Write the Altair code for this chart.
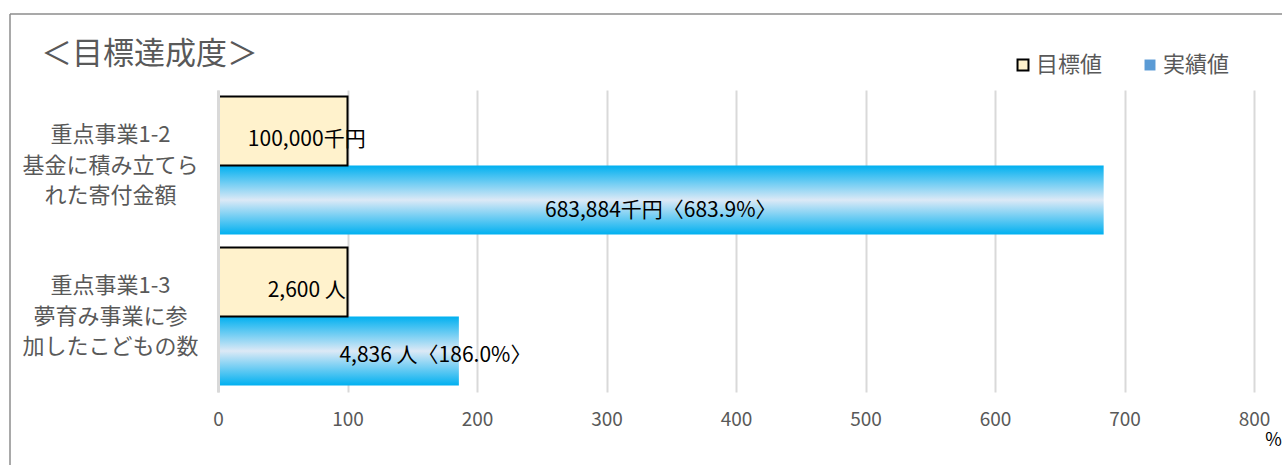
import altair as alt
import pandas as pd

FONT = "Noto Sans CJK JP"

# ---- data ----
categories = [
    ["重点事業1-2", "基金に積み立てら", "れた寄付金額"],
    ["重点事業1-3", "夢育み事業に参", "加したこどもの数"],
]
series = ["目標値", "実績値"]
target_amounts = [100000, 2600]
actual_amounts = [683884, 4836]
units = ["千円", " 人"]
target_pct = [100, 100]
actual_pct = [683.9, 186.0]
x_ticks = [0, 100, 200, 300, 400, 500, 600, 700, 800]
title_text = "＜目標達成度＞"

cat_labels = ["|".join(c) for c in categories]
rows = []
for i, cat in enumerate(cat_labels):
    rows.append({"cat": cat, "series": series[0], "pct": target_pct[i], "row": i,
                 "label": f"{target_amounts[i]:,}{units[i]}"})
    rows.append({"cat": cat, "series": series[1], "pct": actual_pct[i], "row": i,
                 "label": f"{actual_amounts[i]:,}{units[i]}〈{actual_pct[i]:.1f}%〉"})
df = pd.DataFrame(rows)

W, H = 1036, 302

x_axis = alt.Axis(values=x_ticks, title="%", titleX=1055, titleY=48, titleAlign="center",
                  titleBaseline="middle", titleFontSize=18, titleColor="#000000",
                  titleFontWeight="normal", titleFont=FONT,
                  grid=True, gridColor="#d9d9d9", gridWidth=2, domain=False,
                  ticks=False, tickSize=0, labelPadding=18, labelFontSize=19,
                  labelFlush=False, labelOverlap=False,
                  labelColor="#595959", labelFont=FONT)
x_scale = alt.Scale(domain=[0, 800], nice=False, zero=True)

y_enc = alt.Y("cat:N", sort=cat_labels,
              scale=alt.Scale(domain=cat_labels, paddingInner=0.086, paddingOuter=0.043),
              axis=alt.Axis(title=None, labelExpr="split(datum.label, '|')",
                            labelAlign="center", labelBaseline="middle",
                            labelPadding=108, labelOffset=-30.5, ticks=False, tickSize=0,
                            labelFontSize=22, labelColor="#595959", labelFont=FONT,
                            labelLineHeight=30.5, labelLimit=0,
                            domainColor="#d9d9d9", domainWidth=3, zindex=1, grid=False))
yoff_enc = alt.YOffset("series:N", scale=alt.Scale(domain=series, paddingInner=0, paddingOuter=0))

base = alt.Chart(df)

gradient = alt.Gradient(
    gradient="linear",
    stops=[alt.GradientStop(color="#00b0f0", offset=0),
           alt.GradientStop(color="#dce9f6", offset=0.5),
           alt.GradientStop(color="#00b0f0", offset=1)],
    x1=0, x2=0, y1=0, y2=1,
)

actual_bars = base.transform_filter(alt.datum.series == series[1]).mark_bar(
    fill=gradient, strokeWidth=0
).encode(
    x=alt.X("pct:Q", scale=x_scale, axis=x_axis),
    y=y_enc,
    yOffset=yoff_enc,
)

legend = alt.Legend(title=None, orient="none", legendX=794, legendY=-36, padding=0,
                    direction="horizontal", symbolType="square", symbolSize=120,
                    symbolStrokeWidth=2, labelFontSize=22, labelColor="#595959",
                    labelFont=FONT, labelOffset=2, columnPadding=36)

target_bars = base.transform_filter(alt.datum.series == series[0]).mark_bar(
    strokeWidth=2
).encode(
    x=alt.X("pct:Q", scale=x_scale, axis=x_axis),
    y=y_enc,
    yOffset=yoff_enc,
    fill=alt.Fill("series:N", scale=alt.Scale(domain=series, range=["#fff2cc", "#5b9bd5"]),
                  legend=legend),
    stroke=alt.Stroke("series:N", scale=alt.Scale(domain=series, range=["#000000", "transparent"]),
                      legend=legend),
)

def label_layer(filt, dx, dy):
    return base.transform_filter(filt).transform_calculate(
        mid="datum.pct / 2"
    ).mark_text(font=FONT, fontSize=21, color="#000000", baseline="middle",
                align="center", dx=dx, dy=dy).encode(
        x=alt.X("mid:Q", scale=x_scale, axis=x_axis),
        y=y_enc,
        yOffset=yoff_enc,
        text="label:N",
    )

lab_target = label_layer(alt.datum.series == series[0], 24, 9)
lab_act1 = label_layer((alt.datum.series == series[1]) & (alt.datum.row == 0), 0, 11)
lab_act2 = label_layer((alt.datum.series == series[1]) & (alt.datum.row == 1), 97, 5)

one = pd.DataFrame({"t": [title_text]})
title = alt.Chart(one).mark_text(font=FONT, fontSize=31, color="#595959", align="left",
                                 baseline="middle").encode(
    x=alt.value(-177), y=alt.value(-35), text="t:N")

border_top = alt.Chart(one).mark_rule(color="#8c8c8c", strokeWidth=1.5).encode(
    x=alt.value(-208), x2=alt.value(1064), y=alt.value(-76))
border_left = alt.Chart(one).mark_rule(color="#8c8c8c", strokeWidth=1.5).encode(
    x=alt.value(-208), y=alt.value(-76), y2=alt.value(375))

chart = alt.layer(
    actual_bars, target_bars, lab_target, lab_act1, lab_act2, title, border_top, border_left
).properties(
    width=W, height=H,
    autosize=alt.AutoSizeParams(type="none"),
    padding={"left": 218, "top": 90, "right": 28, "bottom": 73},
    background="white",
).configure_view(stroke=None)

chart.save("out.html", embed_options={"renderer": "svg", "actions": False})
